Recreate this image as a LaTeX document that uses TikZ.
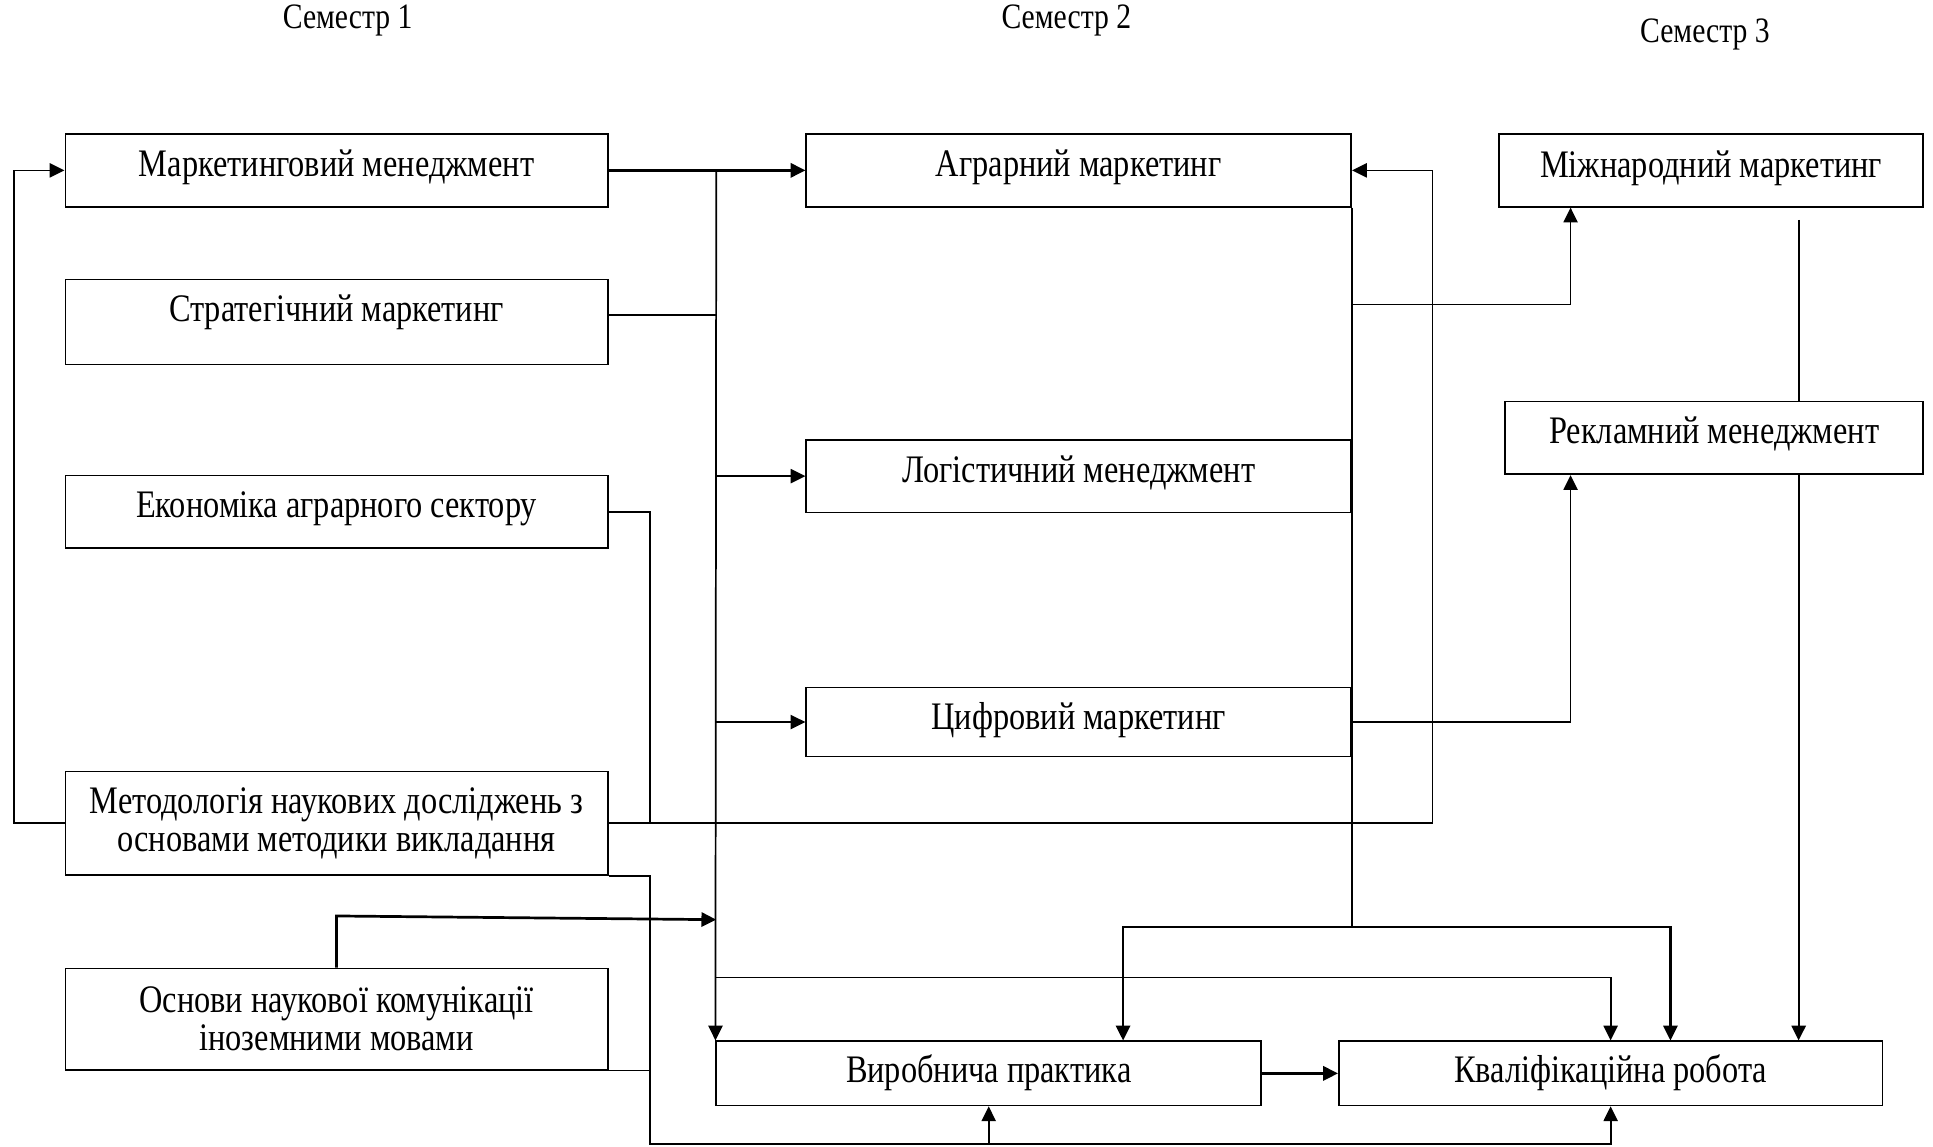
\documentclass[tikz,border=0pt]{standalone}
\usepackage{fontspec}
\setmainfont{Liberation Serif}
\newfontfamily\narrowfont[FakeStretch=0.83]{Liberation Serif}
\usetikzlibrary{arrows.meta}

\begin{document}
\begin{tikzpicture}[
  x=0.02cm, y=-0.02cm,
  boxbase/.style={rectangle, draw=black, line width=0.8pt, inner sep=0pt, anchor=north,
                  align=center, font=\narrowfont\fontsize{18}{17.6}\selectfont},
  box/.style={boxbase, text height=11pt, text depth=#1},
  box/.default=5.5pt,
  sem/.style={font=\narrowfont\fontsize{16.5}{18}\selectfont},
  conn/.style={line width=0.8pt},
  arr/.style={conn, -{Triangle[length=0.24cm, width=0.23cm]}},
  heavy/.style={arr, line width=1.25pt}
]
\useasboundingbox (0,0) rectangle (1568,930);

%% ---- Semester headings ----
\node[sem] (s1) at (282,17)  {Семестр 1};
\node[sem] (s2) at (865,17)  {Семестр 2};
\node[sem] (s3) at (1383,28) {Семестр 3};

%% ---- Semester 1 (left) ----
\node[box, minimum width=8.8cm, minimum height=1.18cm] (mm) at (273,108) {Маркетинговий менеджмент};
\node[box=11.5pt, minimum width=8.8cm, minimum height=1.38cm] (strat) at (273,226) {Стратегічний маркетинг};
\node[box, minimum width=8.8cm, minimum height=1.18cm] (econ) at (273,385) {Економіка аграрного сектору};
\node[boxbase, minimum width=8.8cm, minimum height=1.68cm] (meth) at (273,625)
  {Методологія наукових досліджень з\\основами методики викладання};
\node[boxbase, minimum width=8.8cm, minimum height=1.64cm] (osn) at (273,785)
  {Основи наукової комунікації\\іноземними мовами};

%% ---- Semester 2 (centre) ----
\node[box, minimum width=8.84cm, minimum height=1.18cm] (agr) at (875,108) {Аграрний маркетинг};
\node[box, minimum width=8.84cm, minimum height=1.18cm] (log) at (875,356) {Логістичний менеджмент};
\node[box=4pt, minimum width=8.84cm, minimum height=1.12cm] (dig) at (875,557) {Цифровий маркетинг};

%% ---- Semester 3 (right) ----
\node[box=4.5pt, minimum width=6.88cm, minimum height=1.18cm] (intl) at (1388,108) {Міжнародний маркетинг};
\node[box, minimum width=6.78cm, minimum height=1.18cm] (adv) at (1390.5,325) {Рекламний менеджмент};

%% ---- Practice and thesis ----
\node[box=3pt, minimum width=8.84cm, minimum height=1.04cm] (prac) at (802,844) {Виробнича практика};
\node[box=3pt, minimum width=8.82cm, minimum height=1.04cm] (thes) at (1306.5,844) {Кваліфікаційна робота};

%% ---- Bus lines ----
\coordinate (xL) at (527,0);
\coordinate (xM) at (581,0);
\coordinate (xR) at (1162,0);
\coordinate (xI) at (1274,0);
\coordinate (xP) at (911,0);
\coordinate (xQ) at (1355,0);
\coordinate (xV) at (1459,0);
\coordinate (yA) at (0,247);
\coordinate (yB) at (0,752);
\coordinate (yC) at (0,793);
\coordinate (yD) at (0,928);

%% ---- Arrows ----
\draw[heavy] (mm) -- (agr);
\draw[arr] (xM |- mm.east) -- (prac.north west);
\draw[conn] ([yshift=0.11cm]strat.east) -- ++(88,0);
\draw[arr] (xM |- log.west) -- (log.west);
\draw[arr] (xM |- dig.west) -- (dig.west);
% methodology loops
\draw[conn] (econ.east) -| (xL |- meth.east);
\draw[arr] (meth.west) -- ++(-41,0) |- (mm.west);
\draw[arr] (meth.east) -| (xR |- agr.east) -- (agr.east);
\draw[arr] (meth.south east) -| (xL |- yD) -| (thes.south);
\draw[arr] (prac.south |- yD) -- (prac.south);
\draw[conn] (osn.south east) -- (xL |- osn.south east);
\draw[heavy] (osn.north) -- ++(0,-42) -- (xM |- 0,746);
% right edge of semester 2
\draw[conn] (agr.south east) -- (agr.south east |- yB);
\draw[arr] (agr.east |- yA) -| (xI |- intl.south);
\draw[arr] (dig.east) -| (xI |- adv.south);
\draw[arr, line width=1.1pt] (agr.south east |- yB) -| (xP |- prac.north);
\draw[arr, line width=1.1pt] (agr.south east |- yB) -| (xQ |- thes.north);
\draw[arr] (xM |- yC) -| (thes.north);
% semester 3 down to thesis
\draw[conn] (xV |- intl.south) ++(0,10) -- (xV |- adv.north);
\draw[arr, line width=1pt] (xV |- adv.south) -- (xV |- thes.north);
\draw[heavy] (prac) -- (thes);
\end{tikzpicture}
\end{document}
